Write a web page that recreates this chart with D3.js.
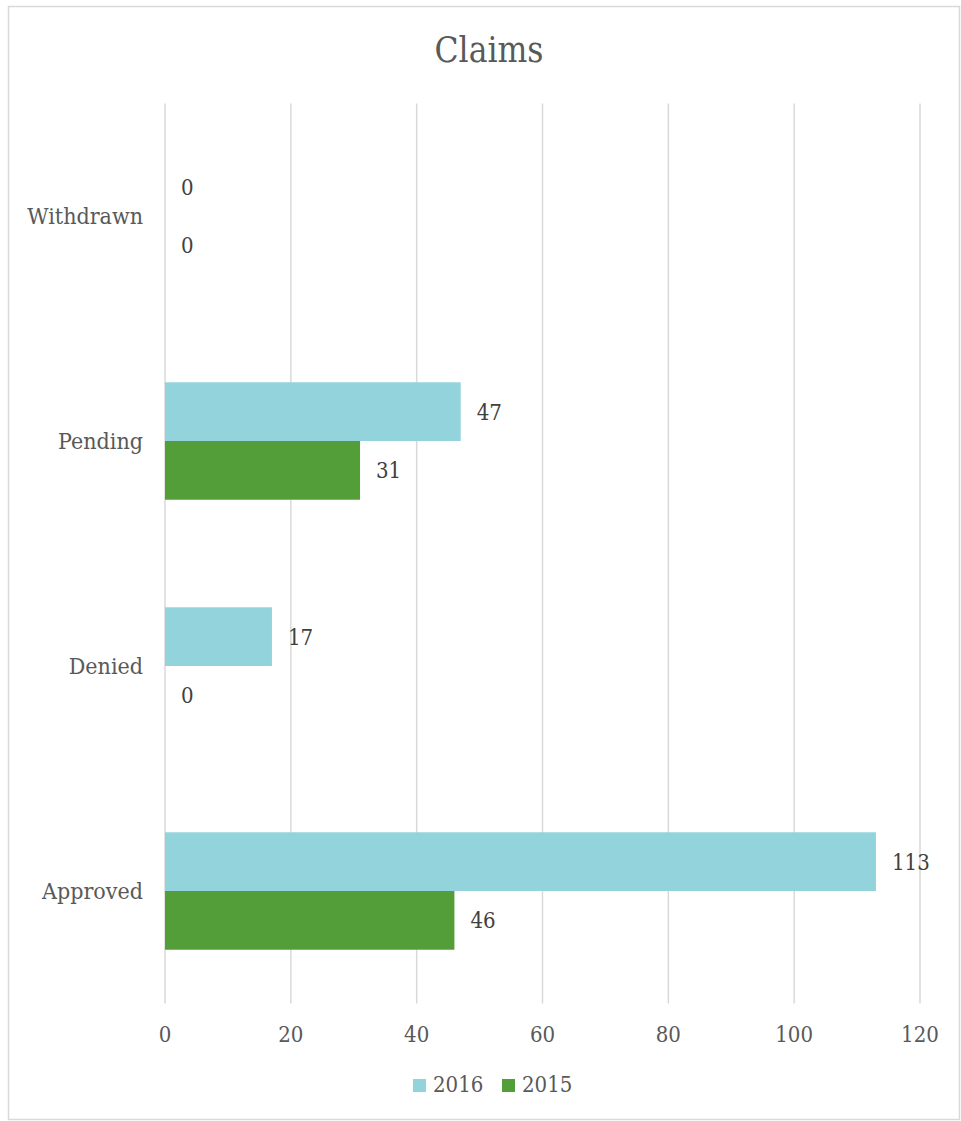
<!DOCTYPE html>
<html>
<head>
<meta charset="utf-8">
<script src="https://cdn.jsdelivr.net/npm/d3@7"></script>
<style>
  body { margin: 0; background: #fff; }
  text { font-family: "DejaVu Serif Condensed", "DejaVu Serif", serif; }
</style>
</head>
<body>
<div id="canvas"></div>
<script>
"use strict"

/* data */
let categories = ["Withdrawn", "Pending", "Denied", "Approved"];
let seriesNames = ["2016", "2015"];
let values2016 = [0, 47, 17, 113];
let values2015 = [0, 31, 0, 46];
let xTicks = [0, 20, 40, 60, 80, 100, 120];

let colors = {"2016": "#93D3DC", "2015": "#549E39"};

/* drawing config */
let svgWidth = 961;
let svgHeight = 1121;
let plot = {left: 165, right: 920, top: 103.5, bottom: 1003.5};

let svg = d3.select("#canvas")
    .append("svg")
    .attr("width", svgWidth)
    .attr("height", svgHeight);

/* chart border */
svg.append("rect")
    .attr("x", 8.5)
    .attr("y", 6.5)
    .attr("width", 951)
    .attr("height", 1113)
    .attr("fill", "white")
    .attr("stroke", "#D9D9D9")
    .attr("stroke-width", 1.5);

let xScale = d3.scaleLinear()
    .domain([0, 120])
    .range([plot.left, plot.right]);

let yScale = d3.scaleBand()
    .domain(categories)
    .range([plot.top, plot.bottom])
    .paddingInner(0.478)
    .paddingOuter(0.239);

let subScale = d3.scaleBand()
    .domain(seriesNames)
    .range([0, yScale.bandwidth()]);

/* gridlines */
svg.append("g")
    .selectAll("line")
    .data(xTicks)
    .join("line")
    .attr("x1", d => xScale(d))
    .attr("x2", d => xScale(d))
    .attr("y1", plot.top)
    .attr("y2", plot.bottom)
    .attr("stroke", "#D9D9D9")
    .attr("stroke-width", 1.5);

/* x tick labels */
svg.append("g")
    .selectAll("text")
    .data(xTicks)
    .join("text")
    .attr("x", d => xScale(d))
    .attr("y", 1042)
    .attr("text-anchor", "middle")
    .attr("font-size", 22)
    .attr("fill", "#595959")
    .text(d => d);

/* category labels */
svg.append("g")
    .selectAll("text")
    .data(categories)
    .join("text")
    .attr("x", 143)
    .attr("y", d => yScale(d) + yScale.bandwidth() / 2)
    .attr("dy", "0.36em")
    .attr("text-anchor", "end")
    .attr("font-size", 23)
    .attr("fill", "#595959")
    .text(d => d);

/* bars */
let rows = [];
categories.forEach(function (c, i) {
    rows.push({category: c, series: "2016", value: values2016[i]});
    rows.push({category: c, series: "2015", value: values2015[i]});
});

svg.append("g")
    .selectAll("rect")
    .data(rows)
    .join("rect")
    .attr("x", xScale(0))
    .attr("y", d => yScale(d.category) + subScale(d.series))
    .attr("width", d => xScale(d.value) - xScale(0))
    .attr("height", subScale.bandwidth())
    .attr("fill", d => colors[d.series]);

/* value labels */
svg.append("g")
    .selectAll("text")
    .data(rows)
    .join("text")
    .attr("x", d => xScale(d.value) + 16)
    .attr("y", d => yScale(d.category) + subScale(d.series) + subScale.bandwidth() / 2)
    .attr("dy", "0.36em")
    .attr("font-size", 22)
    .attr("fill", "#404040")
    .text(d => d.value);

/* title */
svg.append("text")
    .attr("x", 489)
    .attr("y", 62)
    .attr("text-anchor", "middle")
    .attr("font-size", 35)
    .attr("fill", "#595959")
    .text("Claims");

/* legend */
let legend = svg.append("g")
    .selectAll("g")
    .data(seriesNames)
    .join("g")
    .attr("transform", (d, i) => "translate(" + (413 + i * 89) + ",1079)");

legend.append("rect")
    .attr("width", 13)
    .attr("height", 13)
    .attr("fill", d => colors[d]);

legend.append("text")
    .attr("x", 20)
    .attr("y", 13)
    .attr("font-size", 22)
    .attr("fill", "#595959")
    .text(d => d);
</script>
</body>
</html>
